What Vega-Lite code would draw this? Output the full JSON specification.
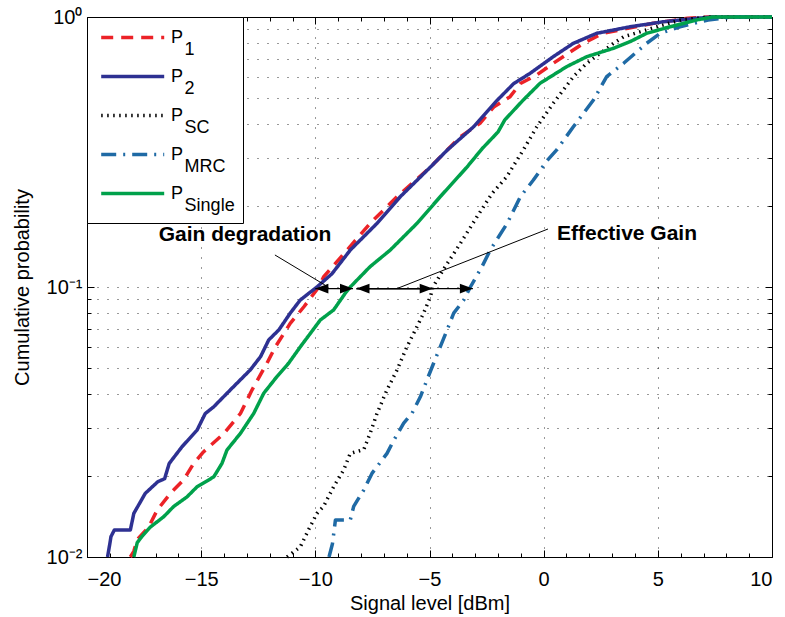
{
  "$schema": "https://vega.github.io/schema/vega-lite/v6.json",
  "width": 685,
  "height": 540,
  "autosize": {"type": "none"},
  "padding": {"left": 87, "top": 17, "right": 13, "bottom": 60},
  "background": "white",
  "config": {
    "view": {"stroke": "black", "strokeWidth": 1},
    "font": "Liberation Sans",
    "axis": {"labelFont": "Liberation Sans", "titleFont": "Liberation Sans", "labelColor": "black", "titleColor": "black", "tickColor": "black", "domain": false, "titleFontWeight": "normal", "labelFontSize": 20, "titleFontSize": 20}
  },
  "resolve": {"axis": {"x": "independent", "y": "independent"}},
  "datasets": {
    "curves": [
      {"series":"P1","level":-18.1,"prob":0.01},{"series":"P1","level":-17.95,"prob":0.0105},{"series":"P1","level":-17.8,"prob":0.0116},{"series":"P1","level":-17.3,"prob":0.0129},{"series":"P1","level":-16.93,"prob":0.0149},{"series":"P1","level":-16.35,"prob":0.0172},{"series":"P1","level":-15.77,"prob":0.0193},{"series":"P1","level":-15.33,"prob":0.0222},{"series":"P1","level":-14.9,"prob":0.0245},{"series":"P1","level":-14.0,"prob":0.0287},{"series":"P1","level":-13.28,"prob":0.034},{"series":"P1","level":-12.77,"prob":0.0416},{"series":"P1","level":-12.12,"prob":0.0522},{"series":"P1","level":-11.75,"prob":0.06},{"series":"P1","level":-11.1,"prob":0.0733},{"series":"P1","level":-10.5,"prob":0.0845},{"series":"P1","level":-9.85,"prob":0.1},{"series":"P1","level":-9.64,"prob":0.109},{"series":"P1","level":-8.61,"prob":0.137},{"series":"P1","level":-7.6,"prob":0.172},{"series":"P1","level":-6.42,"prob":0.216},{"series":"P1","level":-4.96,"prob":0.278},{"series":"P1","level":-3.65,"prob":0.36},{"series":"P1","level":-2.79,"prob":0.404},{"series":"P1","level":-2.19,"prob":0.464},{"series":"P1","level":-1.47,"prob":0.507},{"series":"P1","level":-1.02,"prob":0.567},{"series":"P1","level":-0.3,"prob":0.61},{"series":"P1","level":0.42,"prob":0.674},{"series":"P1","level":1.74,"prob":0.799},{"series":"P1","level":2.6,"prob":0.87},{"series":"P1","level":4.8,"prob":0.948},{"series":"P1","level":6.3,"prob":0.989},{"series":"P1","level":7.2,"prob":1},{"series":"P1","level":10,"prob":1},
      {"series":"P2","level":-19.1,"prob":0.01},{"series":"P2","level":-19.0,"prob":0.0112},{"series":"P2","level":-18.95,"prob":0.0119},{"series":"P2","level":-18.8,"prob":0.0126},{"series":"P2","level":-18.1,"prob":0.0126},{"series":"P2","level":-17.95,"prob":0.0145},{"series":"P2","level":-17.45,"prob":0.0172},{"series":"P2","level":-16.9,"prob":0.019},{"series":"P2","level":-16.6,"prob":0.0195},{"series":"P2","level":-16.4,"prob":0.0222},{"series":"P2","level":-15.84,"prob":0.0256},{"series":"P2","level":-15.18,"prob":0.0295},{"series":"P2","level":-14.82,"prob":0.034},{"series":"P2","level":-14.45,"prob":0.036},{"series":"P2","level":-13.72,"prob":0.0416},{"series":"P2","level":-12.85,"prob":0.0493},{"series":"P2","level":-12.4,"prob":0.0552},{"series":"P2","level":-12.04,"prob":0.0637},{"series":"P2","level":-11.6,"prob":0.0693},{"series":"P2","level":-11.1,"prob":0.08},{"series":"P2","level":-10.66,"prob":0.0895},{"series":"P2","level":-9.93,"prob":0.1},{"series":"P2","level":-9.27,"prob":0.112},{"series":"P2","level":-8.47,"prob":0.137},{"series":"P2","level":-7.3,"prob":0.172},{"series":"P2","level":-6.28,"prob":0.216},{"series":"P2","level":-4.96,"prob":0.278},{"series":"P2","level":-4.23,"prob":0.321},{"series":"P2","level":-3.07,"prob":0.392},{"series":"P2","level":-2.04,"prob":0.491},{"series":"P2","level":-1.31,"prob":0.567},{"series":"P2","level":-0.6,"prob":0.618},{"series":"P2","level":0.42,"prob":0.713},{"series":"P2","level":1.3,"prob":0.799},{"series":"P2","level":2.32,"prob":0.87},{"series":"P2","level":3.78,"prob":0.92},{"series":"P2","level":5.24,"prob":0.96},{"series":"P2","level":6.7,"prob":0.989},{"series":"P2","level":7.4,"prob":1},{"series":"P2","level":10,"prob":1},
      {"series":"PSC","level":-11.24,"prob":0.01},{"series":"PSC","level":-10.66,"prob":0.0109},{"series":"PSC","level":-10.3,"prob":0.0126},{"series":"PSC","level":-9.93,"prob":0.0145},{"series":"PSC","level":-9.64,"prob":0.0154},{"series":"PSC","level":-9.2,"prob":0.0182},{"series":"PSC","level":-8.76,"prob":0.021},{"series":"PSC","level":-8.47,"prob":0.0242},{"series":"PSC","level":-7.88,"prob":0.025},{"series":"PSC","level":-7.6,"prob":0.0287},{"series":"PSC","level":-7.3,"prob":0.034},{"series":"PSC","level":-6.86,"prob":0.0416},{"series":"PSC","level":-6.42,"prob":0.0493},{"series":"PSC","level":-5.99,"prob":0.06},{"series":"PSC","level":-5.62,"prob":0.0693},{"series":"PSC","level":-5.26,"prob":0.08},{"series":"PSC","level":-4.96,"prob":0.092},{"series":"PSC","level":-4.85,"prob":0.1},{"series":"PSC","level":-4.31,"prob":0.119},{"series":"PSC","level":-3.65,"prob":0.145},{"series":"PSC","level":-2.92,"prob":0.182},{"series":"PSC","level":-2.26,"prob":0.222},{"series":"PSC","level":-1.62,"prob":0.256},{"series":"PSC","level":-0.89,"prob":0.322},{"series":"PSC","level":-0.3,"prob":0.392},{"series":"PSC","level":0.42,"prob":0.479},{"series":"PSC","level":1.3,"prob":0.601},{"series":"PSC","level":1.89,"prob":0.674},{"series":"PSC","level":3.06,"prob":0.799},{"series":"PSC","level":3.5,"prob":0.845},{"series":"PSC","level":4.97,"prob":0.92},{"series":"PSC","level":6.0,"prob":0.975},{"series":"PSC","level":7.2,"prob":1},{"series":"PSC","level":10,"prob":1},
      {"series":"PMRC","level":-9.4,"prob":0.01},{"series":"PMRC","level":-9.25,"prob":0.0112},{"series":"PMRC","level":-9.12,"prob":0.0137},{"series":"PMRC","level":-8.47,"prob":0.0137},{"series":"PMRC","level":-8.32,"prob":0.0154},{"series":"PMRC","level":-7.88,"prob":0.0177},{"series":"PMRC","level":-7.52,"prob":0.0204},{"series":"PMRC","level":-6.86,"prob":0.0242},{"series":"PMRC","level":-6.57,"prob":0.027},{"series":"PMRC","level":-6.13,"prob":0.0313},{"series":"PMRC","level":-5.77,"prob":0.034},{"series":"PMRC","level":-5.4,"prob":0.0392},{"series":"PMRC","level":-5.11,"prob":0.0453},{"series":"PMRC","level":-4.82,"prob":0.0522},{"series":"PMRC","level":-4.53,"prob":0.06},{"series":"PMRC","level":-4.23,"prob":0.0693},{"series":"PMRC","level":-3.94,"prob":0.08},{"series":"PMRC","level":-3.5,"prob":0.0895},{"series":"PMRC","level":-3.21,"prob":0.1},{"series":"PMRC","level":-2.7,"prob":0.119},{"series":"PMRC","level":-2.34,"prob":0.137},{"series":"PMRC","level":-1.6,"prob":0.172},{"series":"PMRC","level":-1.02,"prob":0.216},{"series":"PMRC","level":-0.45,"prob":0.249},{"series":"PMRC","level":0.15,"prob":0.294},{"series":"PMRC","level":0.57,"prob":0.322},{"series":"PMRC","level":1.3,"prob":0.392},{"series":"PMRC","level":2.18,"prob":0.493},{"series":"PMRC","level":2.76,"prob":0.601},{"series":"PMRC","level":3.5,"prob":0.674},{"series":"PMRC","level":4.51,"prob":0.799},{"series":"PMRC","level":5.1,"prob":0.87},{"series":"PMRC","level":5.97,"prob":0.92},{"series":"PMRC","level":7.2,"prob":0.975},{"series":"PMRC","level":8.3,"prob":1},{"series":"PMRC","level":10,"prob":1},
      {"series":"PSingle","level":-17.95,"prob":0.01},{"series":"PSingle","level":-17.8,"prob":0.0113},{"series":"PSingle","level":-17.6,"prob":0.0119},{"series":"PSingle","level":-17.23,"prob":0.0129},{"series":"PSingle","level":-16.64,"prob":0.0141},{"series":"PSingle","level":-16.2,"prob":0.0154},{"series":"PSingle","level":-15.62,"prob":0.0167},{"series":"PSingle","level":-15.18,"prob":0.0182},{"series":"PSingle","level":-14.45,"prob":0.0198},{"series":"PSingle","level":-14.09,"prob":0.0222},{"series":"PSingle","level":-13.87,"prob":0.0249},{"series":"PSingle","level":-13.28,"prob":0.0287},{"series":"PSingle","level":-12.7,"prob":0.034},{"series":"PSingle","level":-12.26,"prob":0.0404},{"series":"PSingle","level":-11.68,"prob":0.0466},{"series":"PSingle","level":-11.17,"prob":0.0522},{"series":"PSingle","level":-10.66,"prob":0.06},{"series":"PSingle","level":-10.22,"prob":0.0673},{"series":"PSingle","level":-9.78,"prob":0.0755},{"series":"PSingle","level":-9.2,"prob":0.0822},{"series":"PSingle","level":-8.69,"prob":0.0948},{"series":"PSingle","level":-8.47,"prob":0.1},{"series":"PSingle","level":-7.6,"prob":0.119},{"series":"PSingle","level":-6.72,"prob":0.137},{"series":"PSingle","level":-5.55,"prob":0.172},{"series":"PSingle","level":-4.53,"prob":0.216},{"series":"PSingle","level":-3.36,"prob":0.278},{"series":"PSingle","level":-2.7,"prob":0.325},{"series":"PSingle","level":-2.0,"prob":0.375},{"series":"PSingle","level":-1.7,"prob":0.416},{"series":"PSingle","level":-0.89,"prob":0.493},{"series":"PSingle","level":-0.16,"prob":0.568},{"series":"PSingle","level":1.01,"prob":0.655},{"series":"PSingle","level":1.89,"prob":0.713},{"series":"PSingle","level":3.06,"prob":0.766},{"series":"PSingle","level":3.78,"prob":0.81},{"series":"PSingle","level":4.51,"prob":0.87},{"series":"PSingle","level":5.53,"prob":0.92},{"series":"PSingle","level":6.7,"prob":0.975},{"series":"PSingle","level":7.4,"prob":1},{"series":"PSingle","level":10,"prob":1}
    ],
    "pointers": [
      {"level": -11.77, "prob": 0.1314, "level2": -9.58, "prob2": 0.1017},
      {"level": -6.42, "prob": 0.0987, "level2": 0.19, "prob2": 0.164}
    ],
    "shafts": [
      {"level": -10.0, "level2": -8.35, "prob": 0.0987},
      {"level": -8.2, "level2": -3.1, "prob": 0.0987},
      {"level": -8.2, "level2": -4.86, "prob": 0.0984}
    ],
    "heads": [
      {"level": -10.0, "prob": 0.0987, "dir": "left"},
      {"level": -8.35, "prob": 0.0987, "dir": "right"},
      {"level": -8.2, "prob": 0.0987, "dir": "left"},
      {"level": -4.86, "prob": 0.0987, "dir": "right"},
      {"level": -3.1, "prob": 0.0987, "dir": "right"}
    ],
    "notes": [
      {"text": "Gain degradation", "level": -13.08, "prob": 0.156},
      {"text": "Effective Gain", "level": 3.65, "prob": 0.157}
    ]
  },
  "layer": [
    {
      "data": {"name": "curves"},
      "mark": {"type": "line", "strokeCap": "butt", "strokeJoin": "round"},
      "encoding": {
        "x": {"field": "level", "type": "quantitative", "scale": {"domain": [-20, 10], "nice": false, "zero": false},
          "axis": {"orient": "bottom", "values": [-20, -15, -10, -5, 0, 5, 10], "tickSize": -7, "labelPadding": 19, "title": "Signal level [dBm]", "titlePadding": 4, "grid": true, "gridDash": [1, 9], "gridColor": "#000", "gridOpacity": 0.8}},
        "y": {"field": "prob", "type": "quantitative", "scale": {"type": "log", "domain": [0.01, 1], "nice": false},
          "axis": {"orient": "left", "values": [0.01, 0.1, 1], "tickSize": -7, "labelPadding": 12, "title": "Cumulative probability", "titlePadding": 14, "grid": false,
            "labelExpr": "datum.value >= 0.99 ? '10⁰' : datum.value >= 0.099 ? '10⁻¹' : '10⁻²'"}},
        "color": {"field": "series", "type": "nominal",
          "scale": {"domain": ["P1", "P2", "PSC", "PMRC", "PSingle"], "range": ["#ec2227", "#2e3192", "#000000", "#1f6aa5", "#00a14b"]},
          "legend": {"title": null, "orient": "top-left", "offset": 0, "padding": 8, "strokeColor": "black", "fillColor": "white",
            "symbolType": "M-0.6,0H5.4", "symbolSize": 441, "symbolStrokeWidth": 3.5, "symbolFillColor": "transparent", "labelFontSize": 18, "labelColor": "black", "labelFont": "Liberation Sans", "labelOffset": 51, "labelLimit": 200, "rowPadding": 5,
            "labelExpr": "['P', '\u200b\u00a0\u00a0\u2009' + substring(datum.label, 1)]",
            "encoding": {"labels": {"lineHeight": {"value": 12}}}}},
        "strokeDash": {"field": "series", "type": "nominal",
          "scale": {"domain": ["P1", "P2", "PSC", "PMRC", "PSingle"], "range": [[12, 8], [1, 0], [1.5, 4.5], [15, 7, 2, 7], [1, 0]]}},
        "strokeWidth": {"field": "series", "type": "nominal",
          "scale": {"domain": ["P1", "P2", "PSC", "PMRC", "PSingle"], "range": [3.5, 3.5, 1.3, 3.5, 3.5]}}
      }
    },
    {
      "data": {"name": "pointers"},
      "mark": {"type": "rule", "color": "black", "strokeWidth": 1},
      "encoding": {
        "x": {"field": "level", "type": "quantitative", "axis": {"orient": "bottom", "values": [-19,-18,-17,-16,-14,-13,-12,-11,-9,-8,-7,-6,-4,-3,-2,-1,1,2,3,4,6,7,8,9], "tickSize": -4, "labels": false, "grid": false, "title": null}},
        "y": {"field": "prob", "type": "quantitative", "axis": {"orient": "left", "values": [0.01,0.02,0.03,0.04,0.05,0.06,0.07,0.08,0.09,0.1,0.2,0.3,0.4,0.5,0.6,0.7,0.8,0.9,1], "tickSize": -4, "labels": false, "grid": true, "gridDash": [1, 9], "gridColor": "#000", "gridOpacity": 0.8, "title": null}},
        "x2": {"field": "level2"},
        "y2": {"field": "prob2"}
      }
    },
    {
      "data": {"name": "shafts"},
      "mark": {"type": "rule", "color": "black", "strokeWidth": 1.2},
      "encoding": {
        "x": {"field": "level", "type": "quantitative", "axis": {"orient": "top", "values": [-20, -15, -10, -5, 0, 5, 10], "tickSize": -7, "labels": false, "grid": false, "title": null}},
        "x2": {"field": "level2"},
        "y": {"field": "prob", "type": "quantitative", "axis": {"orient": "right", "values": [0.01, 0.1, 1], "tickSize": -7, "labels": false, "grid": false, "title": null}}
      }
    },
    {
      "data": {"name": "heads"},
      "mark": {"type": "point", "filled": true, "color": "black", "opacity": 1, "size": 170},
      "encoding": {
        "x": {"field": "level", "type": "quantitative", "axis": {"orient": "top", "values": [-19,-18,-17,-16,-14,-13,-12,-11,-9,-8,-7,-6,-4,-3,-2,-1,1,2,3,4,6,7,8,9], "tickSize": -4, "labels": false, "grid": false, "title": null}},
        "y": {"field": "prob", "type": "quantitative", "axis": {"orient": "right", "values": [0.02,0.03,0.04,0.05,0.06,0.07,0.08,0.09,0.2,0.3,0.4,0.5,0.6,0.7,0.8,0.9], "tickSize": -4, "labels": false, "grid": false, "title": null}},
        "shape": {"field": "dir", "type": "nominal", "legend": null,
          "scale": {"domain": ["left", "right"], "range": ["M0,0L2,-0.75L2,0.75Z", "M0,0L-2,-0.75L-2,0.75Z"]}}
      }
    },
    {
      "data": {"name": "notes"},
      "mark": {"type": "text", "font": "Liberation Sans", "fontWeight": "bold", "fontSize": 21, "color": "black", "align": "center", "baseline": "middle"},
      "encoding": {
        "x": {"field": "level", "type": "quantitative", "axis": null},
        "y": {"field": "prob", "type": "quantitative", "axis": null},
        "text": {"field": "text"}
      }
    }
  ]
}
